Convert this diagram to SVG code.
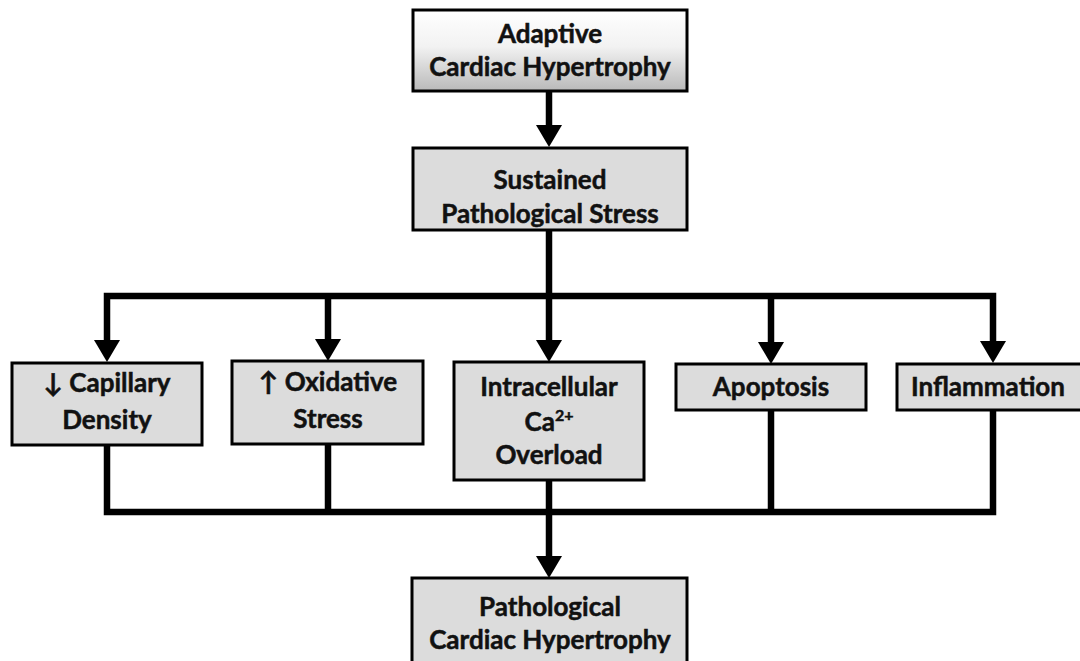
<svg xmlns="http://www.w3.org/2000/svg" width="1080" height="661" viewBox="0 0 1080 661">
<style>
.box{fill:#dcdcdc;stroke:#000;stroke-width:3}
.lbl{font-family:Lato,"Open Sans","DejaVu Sans",sans-serif;font-weight:bold;font-size:26px;fill:#111;stroke:#111;stroke-width:0.5;text-anchor:middle}
.wire{fill:none;stroke:#000;stroke-width:6.5;stroke-linejoin:miter;stroke-linecap:butt}
</style>
<defs>
<linearGradient id="g" x1="0" y1="0" x2="0" y2="1">
<stop offset="0" stop-color="#ffffff"/>
<stop offset="0.45" stop-color="#f2f2f2"/>
<stop offset="1" stop-color="#b9b9b9"/>
</linearGradient>
<marker id="ah" viewBox="0 0 22 26" refX="1" refY="13" markerWidth="22" markerHeight="26" markerUnits="userSpaceOnUse" orient="auto-start-reverse">
<path d="M0,0 L22,13 L0,26 z" fill="#000"/>
</marker>
</defs>
<rect width="1080" height="661" fill="#fff"/>
<g id="connectors">
<path class="wire" d="M549,91 V126" marker-end="url(#ah)"/>
<path class="wire" d="M549,230 V296"/>
<path class="wire" d="M107,341 V296 H993 V342" marker-start="url(#ah)" marker-end="url(#ah)"/>
<path class="wire" d="M328,296 V340" marker-end="url(#ah)"/>
<path class="wire" d="M549,296 V341" marker-end="url(#ah)"/>
<path class="wire" d="M771,296 V343" marker-end="url(#ah)"/>
<path class="wire" d="M107,445 V512 H993 V410"/>
<path class="wire" d="M328,444 V512"/>
<path class="wire" d="M771,410 V512"/>
<path class="wire" d="M549,480 V557" marker-end="url(#ah)"/>
</g>
<g id="n-adaptive">
<rect x="413" y="10" width="274" height="81" fill="url(#g)" stroke="#000" stroke-width="3"/>
<text class="lbl" x="550" y="43">Adaptive</text>
<text class="lbl" x="550" y="76">Cardiac Hypertrophy</text>
</g>
<g id="n-sustained">
<rect class="box" x="413" y="148" width="274" height="82"/>
<text class="lbl" x="550" y="189">Sustained</text>
<text class="lbl" x="550" y="223">Pathological Stress</text>
</g>
<g id="n-capillary">
<rect class="box" x="12" y="363" width="190" height="82"/>
<text class="lbl" x="107" y="392">↓ Capillary</text>
<text class="lbl" x="107" y="429">Density</text>
</g>
<g id="n-oxidative">
<rect class="box" x="232" y="361" width="191" height="83"/>
<text class="lbl" x="328" y="391">↑ Oxidative</text>
<text class="lbl" x="328" y="428">Stress</text>
</g>
<g id="n-calcium">
<rect class="box" x="454" y="362" width="190" height="118"/>
<text class="lbl" x="549" y="396">Intracellular</text>
<text class="lbl" x="549" y="431">Ca<tspan font-size="16" dy="-10">2+</tspan></text>
<text class="lbl" x="549" y="464">Overload</text>
</g>
<g id="n-apoptosis">
<rect class="box" x="676" y="364" width="190" height="46"/>
<text class="lbl" x="771" y="396">Apoptosis</text>
</g>
<g id="n-inflammation">
<rect class="box" x="897" y="364" width="186" height="46"/>
<text class="lbl" x="988" y="396">Inflammation</text>
</g>
<g id="n-pathological">
<rect class="box" x="412" y="578" width="275" height="85"/>
<text class="lbl" x="550" y="616">Pathological</text>
<text class="lbl" x="550" y="649">Cardiac Hypertrophy</text>
</g>
</svg>
